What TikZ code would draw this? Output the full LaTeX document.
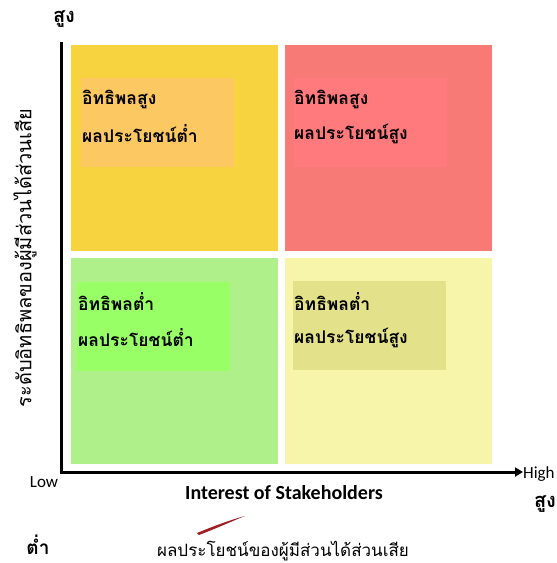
\documentclass[tikz,border=0pt]{standalone}
\usepackage{fontspec}
\newfontfamily\thaifont[Script=Thai]{Loma}
\setsansfont{Carlito}
\usetikzlibrary{arrows.meta,positioning}

\definecolor{tlcol}{RGB}{247,211,64}
\definecolor{tlin}{RGB}{252,200,98}
\definecolor{trcol}{RGB}{247,122,119}
\definecolor{trin}{RGB}{255,122,124}
\definecolor{blcol}{RGB}{176,240,138}
\definecolor{blin}{RGB}{153,255,102}
\definecolor{brcol}{RGB}{247,245,170}
\definecolor{brin}{RGB}{227,226,138}
\definecolor{swoosh}{RGB}{160,30,35}

\tikzset{
	quad/.style={inner sep=0pt, minimum width=207pt, minimum height=206pt, anchor=north west},
	inbox/.style={inner sep=0pt, minimum width=153pt, minimum height=89pt, anchor=north west},
	qtext/.style={font=\thaifont\bfseries\fontsize{17.5}{20}\selectfont, inner sep=0pt, anchor=west},
	axis/.style={line width=3pt},
}

\begin{document}
\begin{tikzpicture}[x=1pt, y=-1pt]
	\useasboundingbox (0,0) rectangle (557,563);
	% quadrants
	\node[quad, fill=tlcol] (tl) at (71,45) {};
	\node[quad, fill=trcol] (tr) at (285,45) {};
	\node[quad, fill=blcol] (bl) at (71,258) {};
	\node[quad, fill=brcol] (br) at (285,258) {};
	% inner boxes
	\node[inbox, fill=tlin] (tlbox) at (81,78) {};
	\node[inbox, fill=trin] (trbox) at (294,78) {};
	\node[inbox, fill=blin] (blbox) at (77,282) {};
	\node[inbox, fill=brin] (brbox) at (293,281) {};
	% texts
	\node[qtext] (tlA) at (82,99) {อิทธิพลสูง};
	\node[qtext] (tlB) at (82,134) {ผลประโยชน์ต่ำ};
	\node[qtext] (trA) at (294,99) {อิทธิพลสูง};
	\node[qtext] (trB) at (294,134) {ผลประโยชน์สูง};
	\node[qtext] (blA) at (78,302) {อิทธิพลต่ำ};
	\node[qtext] (blB) at (78,338) {ผลประโยชน์ต่ำ};
	\node[qtext] (brA) at (294,302) {อิทธิพลต่ำ};
	\node[qtext] (brB) at (294,338) {ผลประโยชน์สูง};
	% axes
	\coordinate (origin) at (61,472);
	\coordinate (ytop) at (61,42);
	\coordinate (xend) at (523,472);
	\draw[axis] (ytop) -- (origin |- 0,473.5);
	\draw[axis, -{Triangle[length=8pt,width=9pt]}] (origin -| 59.5,0) -- (xend);
	% axis labels
	\node[font=\sffamily\fontsize{17}{19}\selectfont, anchor=west, inner sep=0pt] (high) at (523,474) {High};
	\node[font=\sffamily\fontsize{17}{19}\selectfont, inner sep=0pt] (low) at (44,482) {Low};
	\node[font=\sffamily\bfseries\fontsize{20}{22}\selectfont, inner sep=0pt] (interest) at (284,493) {Interest of Stakeholders};
	\node[font=\thaifont\bfseries\fontsize{20}{22}\selectfont, inner sep=0pt] (hightop) at (64,19) {สูง};
	\node[font=\thaifont\bfseries\fontsize{20}{22}\selectfont, inner sep=0pt] (highright) at (545,504) {สูง};
	\node[font=\thaifont\bfseries\fontsize{19}{21}\selectfont, inner sep=0pt] (lowleft) at (38,545) {ต่ำ};
	\node[font=\thaifont\fontsize{17}{20}\selectfont, inner sep=0pt] (benefit) at (283,551) {ผลประโยชน์ของผู้มีส่วนได้ส่วนเสีย};
	\node[font=\thaifont\fontsize{20}{22}\selectfont, inner sep=0pt, rotate=90] (influence) at (25,258) {ระดับอิทธิพลของผู้มีส่วนได้ส่วนเสีย};
	% swoosh
	\fill[swoosh] (197,533) .. controls (214,526) and (230,520) .. (245,516)
		.. controls (230,522) and (215,529) .. (199,535) -- cycle;
\end{tikzpicture}
\end{document}
